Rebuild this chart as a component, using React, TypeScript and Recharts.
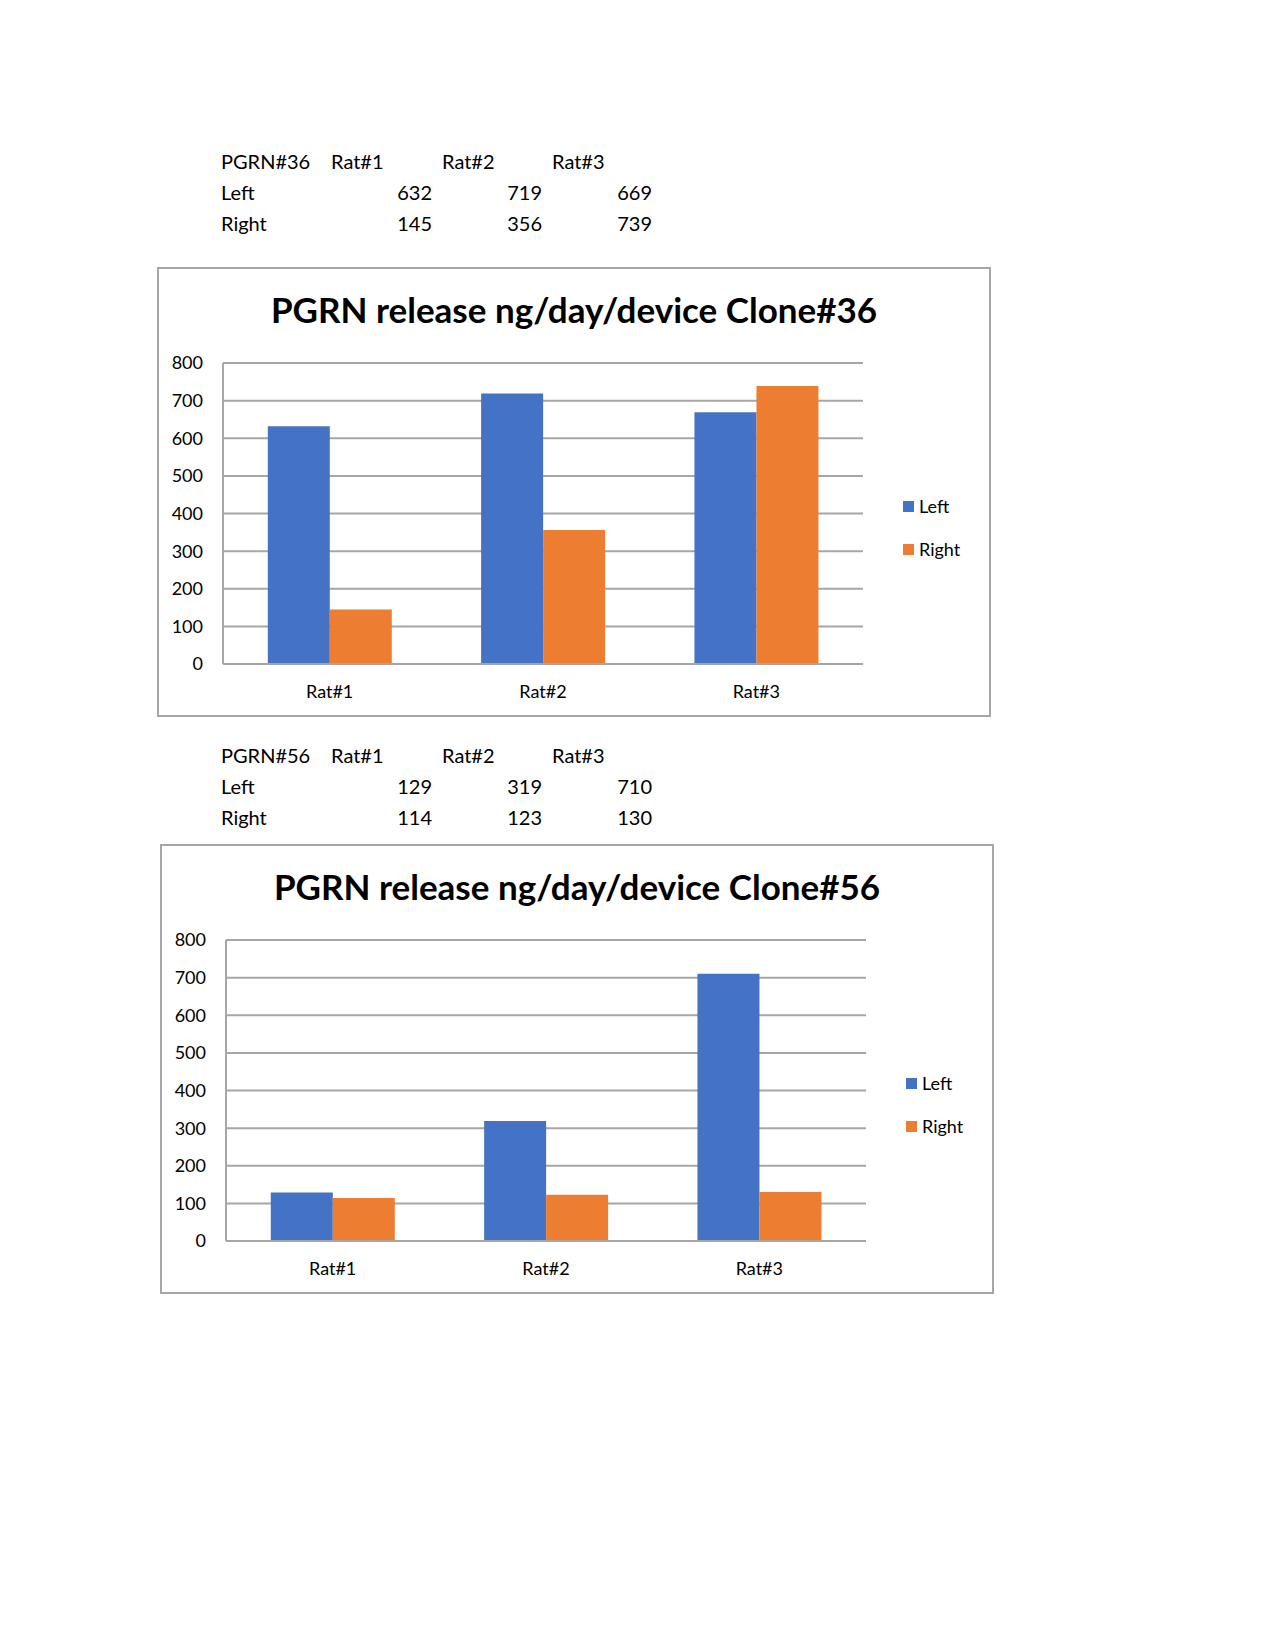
import React from 'react';
import { BarChart, Bar, XAxis, YAxis, CartesianGrid, Legend } from 'recharts';

const rats = ['Rat#1', 'Rat#2', 'Rat#3'];
const left36 = [632, 719, 669];
const right36 = [145, 356, 739];
const left56 = [129, 319, 710];
const right56 = [114, 123, 130];
const yTicks = [0, 100, 200, 300, 400, 500, 600, 700, 800];

const BLUE = '#4472C4';
const ORANGE = '#ED7D31';
const GRID = '#a6a6a6';
const FONT = 'Lato, "Open Sans", sans-serif';

const LegendBox = () => (
  <div style={{ fontFamily: FONT, fontSize: 18, color: '#000' }}>
    {[
      { name: 'Left', color: BLUE },
      { name: 'Right', color: ORANGE },
    ].map((it, i) => (
      <div key={it.name} style={{ display: 'flex', alignItems: 'center', height: 22, marginBottom: i === 0 ? 21 : 0 }}>
        <span style={{ width: 11, height: 11, background: it.color, display: 'inline-block', marginRight: 5 }} />
        <span>{it.name}</span>
      </div>
    ))}
  </div>
);

interface TableProps {
  label: string;
  top: number;
  left: number[];
  right: number[];
}

const DataTable: React.FC<TableProps> = ({ label, top, left, right }) => {
  const row = (y: number, children: React.ReactNode) => (
    <div style={{ position: 'absolute', top: y - 15, left: 0, height: 30, lineHeight: '30px' }}>{children}</div>
  );
  const headX = [331, 442, 552];
  const valEnd = [432, 542, 652];
  const cell = (x: number, text: string) => (
    <span key={x} style={{ position: 'absolute', left: x, whiteSpace: 'nowrap' }}>{text}</span>
  );
  const num = (x: number, v: number) => (
    <span key={x} style={{ position: 'absolute', left: x - 60, width: 60, textAlign: 'right' }}>{v}</span>
  );
  return (
    <div style={{ position: 'absolute', top: 0, left: 0, fontFamily: FONT, fontSize: 20, color: '#000' }}>
      {row(top, [cell(221, label), ...rats.map((r, i) => cell(headX[i], r))])}
      {row(top + 31, [cell(221, 'Left'), ...left.map((v, i) => num(valEnd[i], v))])}
      {row(top + 62, [cell(221, 'Right'), ...right.map((v, i) => num(valEnd[i], v))])}
    </div>
  );
};

interface ChartProps {
  title: string;
  x: number;
  y: number;
  left: number[];
  right: number[];
}

const ChartBox: React.FC<ChartProps> = ({ title, x, y, left, right }) => {
  const data = rats.map((r, i) => ({ name: r, Left: left[i], Right: right[i] }));
  return (
    <div
      style={{
        position: 'absolute',
        left: x,
        top: y,
        width: 834,
        height: 450,
        border: `2px solid ${GRID}`,
        boxSizing: 'border-box',
        background: '#fff',
      }}
    >
      <div
        style={{
          position: 'absolute',
          left: 0,
          width: 830,
          top: 19,
          textAlign: 'center',
          fontFamily: FONT,
          fontWeight: 700,
          fontSize: 35,
          color: '#000',
        }}
      >
        {title}
      </div>
      <div style={{ position: 'absolute', left: -2, top: -2 }}>
        <BarChart
          width={834}
          height={450}
          data={data}
          margin={{ top: 96, right: 128, bottom: 23, left: 26 }}
          barGap={0}
          barCategoryGap="21%"
        >
          <CartesianGrid vertical={false} stroke={GRID} strokeWidth={2} />
          <XAxis
            dataKey="name"
            height={30}
            axisLine={{ stroke: GRID, strokeWidth: 2 }}
            tickLine={false}
            tickMargin={15}
            tick={{ fill: '#000', fontSize: 18, fontFamily: FONT }}
          />
          <YAxis
            width={40}
            domain={[0, 800]}
            ticks={yTicks}
            interval={0}
            axisLine={{ stroke: GRID, strokeWidth: 2 }}
            tickLine={false}
            tickMargin={14}
            tick={{ fill: '#000', fontSize: 18, fontFamily: FONT }}
          />
          <Legend
            layout="vertical"
            align="center"
            verticalAlign="middle"
            content={() => <LegendBox />}
            wrapperStyle={{ left: 746, top: 228, width: 80 }}
          />
          <Bar dataKey="Left" fill={BLUE} isAnimationActive={false} />
          <Bar dataKey="Right" fill={ORANGE} isAnimationActive={false} />
        </BarChart>
      </div>
    </div>
  );
};

export default function App() {
  return (
    <div style={{ position: 'absolute', left: 0, top: 0, width: 1275, height: 1650, background: '#fff' }}>
      <DataTable label="PGRN#36" top={161} left={left36} right={right36} />
      <ChartBox title="PGRN release ng/day/device Clone#36" x={157} y={267} left={left36} right={right36} />
      <DataTable label="PGRN#56" top={755} left={left56} right={right56} />
      <ChartBox title="PGRN release ng/day/device Clone#56" x={160} y={844} left={left56} right={right56} />
    </div>
  );
}
